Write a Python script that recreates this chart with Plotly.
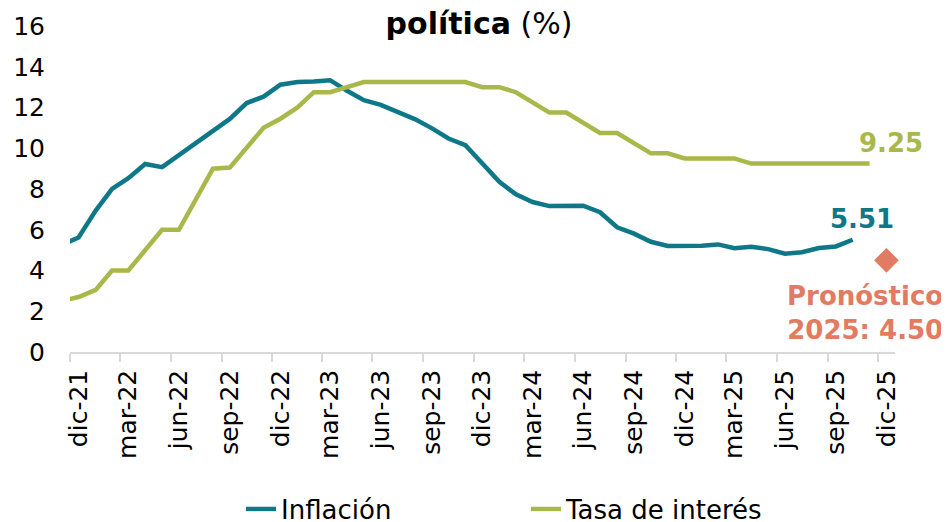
import pandas as pd
import plotly.graph_objects as go

# Monthly data, nov-21 onward (nov-21 lies just left of the axis start and is clipped)
inflacion = [5.26, 5.62,
             6.94, 8.01, 8.53, 9.23, 9.07, 9.67, 10.21, 10.84, 11.44, 12.22, 12.53, 13.12,
             13.25, 13.28, 13.34, 12.82, 12.36, 12.13, 11.78, 11.43, 10.99, 10.48, 10.15, 9.28,
             8.35, 7.74, 7.36, 7.16, 7.16, 7.18, 6.86, 6.12, 5.81, 5.41, 5.20, 5.20,
             5.22, 5.28, 5.09, 5.16, 5.05, 4.82, 4.90, 5.10, 5.18, 5.51]
tasa = [2.50, 2.70,
        3.05, 4.00, 4.00, 5.00, 6.00, 6.00, 7.50, 9.00, 9.05, 10.00, 11.00, 11.45,
        12.00, 12.75, 12.75, 13.00, 13.25, 13.25, 13.25, 13.25, 13.25, 13.25, 13.25, 13.00,
        13.00, 12.75, 12.25, 11.75, 11.75, 11.25, 10.75, 10.75, 10.25, 9.75, 9.75, 9.50,
        9.50, 9.50, 9.50, 9.25, 9.25, 9.25, 9.25, 9.25, 9.25, 9.25, 9.25]
start_month = "2021-11-01"
pronostico_mes = "2025-12-01"
pronostico_valor = 4.50
pronostico_texto = "Pronóstico<br>2025: 4.50"

tick_months = ["2021-12-01", "2022-03-01", "2022-06-01", "2022-09-01", "2022-12-01",
               "2023-03-01", "2023-06-01", "2023-09-01", "2023-12-01", "2024-03-01",
               "2024-06-01", "2024-09-01", "2024-12-01", "2025-03-01", "2025-06-01",
               "2025-09-01", "2025-12-01"]
tick_labels = ["dic-21", "mar-22", "jun-22", "sep-22", "dic-22", "mar-23", "jun-23",
               "sep-23", "dic-23", "mar-24", "jun-24", "sep-24", "dic-24", "mar-25",
               "jun-25", "sep-25", "dic-25"]

TEAL = "#0E7889"
GREEN = "#A9B84A"
SALMON = "#E27B62"
FONT = "DejaVu Sans"

# the page body has an 8px margin; the figure is sized to fill the rest of the window
W, H = 941, 514


def mid_month(starts):
    s = pd.to_datetime(pd.Series(starts))
    return list(s + (s + pd.offsets.MonthBegin(1) - s) / 2)


months_inf = list(pd.date_range(start_month, periods=len(inflacion), freq="MS"))
months_tasa = list(pd.date_range(start_month, periods=len(tasa), freq="MS"))
x_inf = mid_month(months_inf)
x_tasa = mid_month(months_tasa)
x_pron = mid_month([pronostico_mes])
tick_mid = mid_month(tick_months)

fig = go.Figure()
fig.add_trace(go.Scatter(x=x_inf, y=inflacion, mode="lines", name="Inflación",
                         line=dict(color=TEAL, width=4.5)))
fig.add_trace(go.Scatter(x=x_tasa, y=tasa, mode="lines", name="Tasa de interés",
                         line=dict(color=GREEN, width=4.5)))
fig.add_trace(go.Scatter(x=x_pron, y=[pronostico_valor], mode="markers", showlegend=False,
                         marker=dict(symbol="diamond", size=19, color=SALMON),
                         cliponaxis=False))

fig.add_annotation(x=x_tasa[-1], y=tasa[-1], text="<b>%.2f</b>" % tasa[-1], showarrow=False,
                   xanchor="center", yanchor="middle", xshift=21, yshift=21,
                   font=dict(family=FONT, size=26, color=GREEN))
fig.add_annotation(x=x_inf[-1], y=inflacion[-1], text="<b>%.2f</b>" % inflacion[-1], showarrow=False,
                   xanchor="center", yanchor="middle", xshift=9, yshift=21,
                   font=dict(family=FONT, size=26, color=TEAL))
fig.add_annotation(x=x_pron[0], y=pronostico_valor, text="<b>" + pronostico_texto + "</b>",
                   showarrow=False, xanchor="right", yanchor="middle", align="right",
                   xshift=59, yshift=-53,
                   font=dict(family=FONT, size=26, color=SALMON))

fig.update_layout(
    width=W, height=H,
    margin=dict(l=62, r=54, t=18, b=170, autoexpand=False),
    paper_bgcolor="white", plot_bgcolor="white",
    font=dict(family=FONT, color="#000000"),
    title=dict(text="<b>política</b> (%)", font=dict(family=FONT, size=30, color="#000000"),
               x=471 / W, xref="container", xanchor="center",
               y=1 - 15 / H, yref="container", yanchor="middle"),
    showlegend=True,
    legend=dict(orientation="h", xref="container", yref="container",
                x=233 / W, xanchor="left", y=13 / H, yanchor="middle",
                font=dict(family=FONT, size=26, color="#000000"),
                entrywidth=240, entrywidthmode="pixels",
                bgcolor="rgba(0,0,0,0)"),
)

fig.update_xaxes(
    type="date", range=["2021-12-01", "2026-01-01"],
    tickmode="array", tickvals=tick_mid, ticktext=tick_labels,
    tickangle=-90, ticks="", ticklabelstandoff=6,
    tickfont=dict(family=FONT, size=25, color="#000000"),
    showline=True, linecolor="#D9D9D9", linewidth=1.5,
    showgrid=False, zeroline=False,
    minor=dict(tickmode="array", tickvals=tick_months, ticks="outside",
               ticklen=8, tickwidth=1.5, tickcolor="#D9D9D9", showgrid=False),
)
fig.update_yaxes(
    range=[0, 16], dtick=2, showgrid=False, zeroline=False, showline=False,
    ticks="", ticklabelstandoff=24,
    tickfont=dict(family=FONT, size=25, color="#000000"),
)

fig.write_html("out.html")
